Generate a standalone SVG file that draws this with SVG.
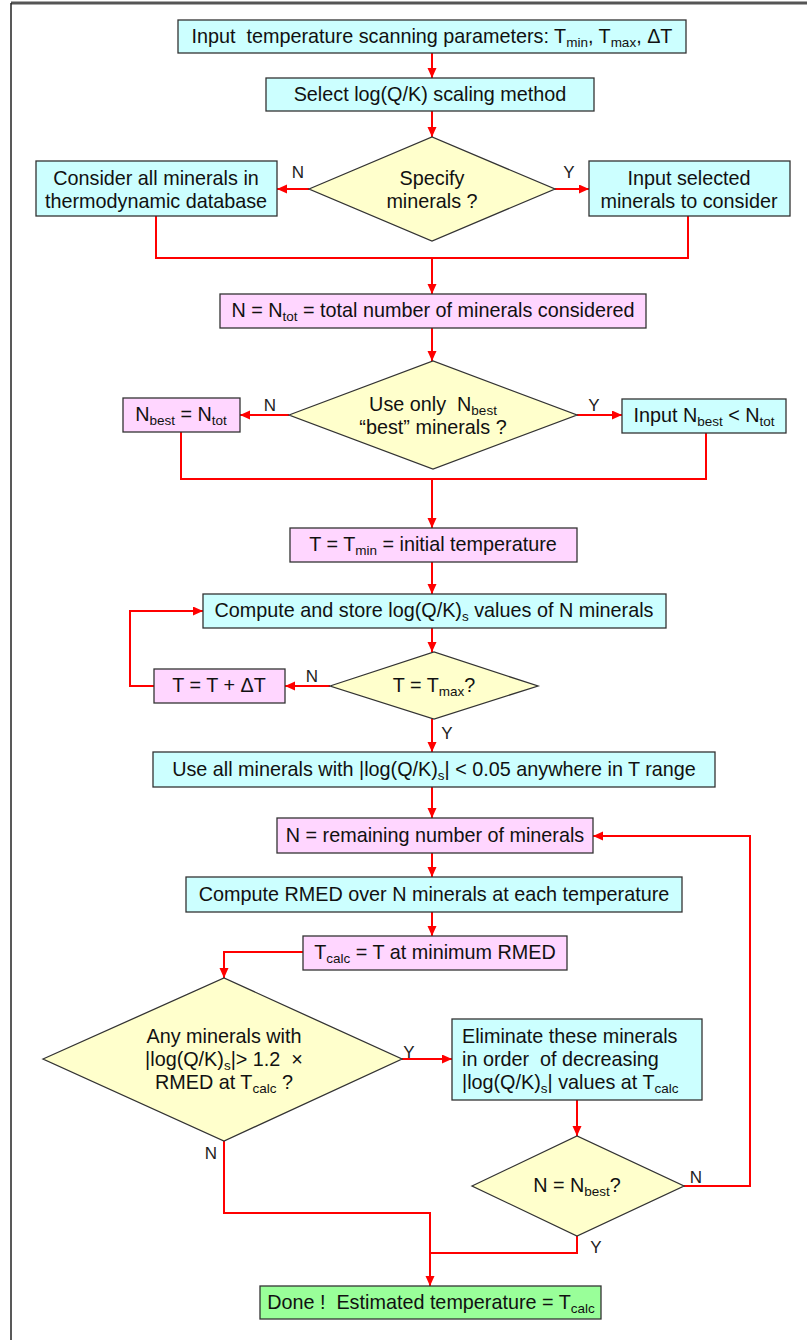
<svg xmlns="http://www.w3.org/2000/svg" width="807" height="1340" viewBox="0 0 807 1340">
<defs>
<style>
.box{stroke:#333;stroke-width:1.3}
.cy{fill:#CCFFFF}.pk{fill:#FFD6FF}.yl{fill:#FFFFCC}.gr{fill:#99FF99}
.t{font-family:"Liberation Sans",Arial,sans-serif;font-size:19.8px;fill:#111;text-anchor:middle;white-space:pre}
.tl{text-anchor:start}
.s{font-size:13.5px}
.lb{font-family:"Liberation Sans",Arial,sans-serif;font-size:17px;fill:#222;text-anchor:middle}
.c{fill:none;stroke:#FF0000;stroke-width:2}
.a{marker-end:url(#ah)}
</style>
<marker id="ah" markerUnits="userSpaceOnUse" markerWidth="11" markerHeight="10" refX="10" refY="4.5" orient="auto">
<path d="M0,0 L10,4.5 L0,9 z" fill="#FF0000"/>
</marker>
</defs>
<rect x="0" y="0" width="807" height="1340" fill="#fff"/>
<line x1="11" y1="3" x2="807" y2="3" stroke="#555" stroke-width="3"/>
<line x1="11" y1="3" x2="11" y2="1340" stroke="#222" stroke-width="1.5"/>

<g id="connectors">
<path class="c a" d="M432,53 V78"/>
<path class="c a" d="M432,111 V137"/>
<path class="c a" d="M309,189 H277"/>
<path class="c a" d="M555,189 H589"/>
<path class="c" d="M156,216 V258 H688 V216"/>
<path class="c a" d="M432,258 V294"/>
<path class="c a" d="M432,328 V361"/>
<path class="c a" d="M289,415 H240"/>
<path class="c a" d="M577,415 H622"/>
<path class="c" d="M181,432 V479 H706 V433"/>
<path class="c a" d="M432,479 V528"/>
<path class="c a" d="M432,562 V594"/>
<path class="c a" d="M432,628 V652"/>
<path class="c a" d="M330,686 H285"/>
<path class="c a" d="M154,686 H130 V611 H203"/>
<path class="c a" d="M432,719 V752"/>
<path class="c a" d="M432,787 V818"/>
<path class="c a" d="M432,853 V877"/>
<path class="c a" d="M432,912 V936"/>
<path class="c a" d="M303,952 H224 V978"/>
<path class="c a" d="M402,1059 H452"/>
<path class="c a" d="M577,1100 V1136"/>
<path class="c a" d="M684,1186 H750 V836 H593"/>
<path class="c a" d="M224,1141 V1213 H430 V1286"/>
<path class="c" d="M577,1236 V1253 H430"/>
</g>

<g id="n1"><rect class="box cy" x="178" y="20" width="508" height="33"/>
<text class="t" x="432" y="43">Input  temperature scanning parameters: T<tspan class="s" dy="4">min</tspan><tspan dy="-4">, T</tspan><tspan class="s" dy="4">max</tspan><tspan dy="-4">, ΔT</tspan></text></g>

<g id="n2"><rect class="box cy" x="266" y="78" width="328" height="33"/>
<text class="t" x="430" y="101">Select log(Q/K) scaling method</text></g>

<g id="d1"><polygon class="box yl" points="309,189 432,137 555,189 432,241"/>
<text class="t" x="432" y="185">Specify</text>
<text class="t" x="432" y="208">minerals ?</text></g>

<g id="n3"><rect class="box cy" x="36" y="161" width="241" height="55"/>
<text class="t" x="156" y="185">Consider all minerals in</text>
<text class="t" x="156" y="208">thermodynamic database</text></g>

<g id="n4"><rect class="box cy" x="589" y="161" width="201" height="55"/>
<text class="t" x="689" y="185">Input selected</text>
<text class="t" x="689" y="208">minerals to consider</text></g>

<g id="n5"><rect class="box pk" x="220" y="294" width="426" height="34"/>
<text class="t" x="433" y="317">N = N<tspan class="s" dy="4">tot</tspan><tspan dy="-4"> = total number of minerals considered</tspan></text></g>

<g id="d2"><polygon class="box yl" points="289,415 433,361 577,415 433,469"/>
<text class="t" x="433" y="411">Use only  N<tspan class="s" dy="4">best</tspan></text>
<text class="t" x="433" y="434">“best” minerals ?</text></g>

<g id="n6"><rect class="box pk" x="123" y="398" width="117" height="34"/>
<text class="t" x="181" y="421">N<tspan class="s" dy="4">best</tspan><tspan dy="-4"> = N</tspan><tspan class="s" dy="4">tot</tspan></text></g>

<g id="n7"><rect class="box cy" x="622" y="399" width="164" height="34"/>
<text class="t" x="704" y="422">Input N<tspan class="s" dy="4">best</tspan><tspan dy="-4"> &lt; N</tspan><tspan class="s" dy="4">tot</tspan></text></g>

<g id="n8"><rect class="box pk" x="290" y="528" width="287" height="34"/>
<text class="t" x="433" y="551">T = T<tspan class="s" dy="4">min</tspan><tspan dy="-4"> = initial temperature</tspan></text></g>

<g id="n9"><rect class="box cy" x="203" y="594" width="463" height="34"/>
<text class="t" x="434" y="617">Compute and store log(Q/K)<tspan class="s" dy="4">s</tspan><tspan dy="-4"> values of N minerals</tspan></text></g>

<g id="d3"><polygon class="box yl" points="330,686 434,652 538,686 434,719"/>
<text class="t" x="434" y="692">T = T<tspan class="s" dy="4">max</tspan><tspan dy="-4">?</tspan></text></g>

<g id="n10"><rect class="box pk" x="154" y="669" width="131" height="34"/>
<text class="t" x="219" y="692">T = T + ΔT</text></g>

<g id="n11"><rect class="box cy" x="153" y="752" width="562" height="35"/>
<text class="t" x="434" y="776">Use all minerals with |log(Q/K)<tspan class="s" dy="4">s</tspan><tspan dy="-4">| &lt; 0.05 anywhere in T range</tspan></text></g>

<g id="n12"><rect class="box pk" x="277" y="818" width="316" height="35"/>
<text class="t" x="435" y="842">N = remaining number of minerals</text></g>

<g id="n13"><rect class="box cy" x="186" y="877" width="496" height="35"/>
<text class="t" x="434" y="901">Compute RMED over N minerals at each temperature</text></g>

<g id="n14"><rect class="box pk" x="303" y="936" width="264" height="34"/>
<text class="t" x="435" y="959">T<tspan class="s" dy="4">calc</tspan><tspan dy="-4"> = T at minimum RMED</tspan></text></g>

<g id="d4"><polygon class="box yl" points="43,1059 224,978 402,1059 224,1141"/>
<text class="t" x="224" y="1043">Any minerals with</text>
<text class="t" x="224" y="1066">|log(Q/K)<tspan class="s" dy="4">s</tspan><tspan dy="-4">|&gt; 1.2  ×</tspan></text>
<text class="t" x="224" y="1089">RMED at T<tspan class="s" dy="4">calc</tspan><tspan dy="-4"> ?</tspan></text></g>

<g id="n15"><rect class="box cy" x="452" y="1019" width="250" height="81"/>
<text class="t tl" x="462" y="1043">Eliminate these minerals</text>
<text class="t tl" x="462" y="1066">in order  of decreasing</text>
<text class="t tl" x="462" y="1089">|log(Q/K)<tspan class="s" dy="4">s</tspan><tspan dy="-4">| values at T</tspan><tspan class="s" dy="4">calc</tspan></text></g>

<g id="d5"><polygon class="box yl" points="472,1186 577,1136 684,1186 577,1236"/>
<text class="t" x="577" y="1192">N = N<tspan class="s" dy="4">best</tspan><tspan dy="-4">?</tspan></text></g>

<g id="n16"><rect class="box gr" x="260" y="1286" width="341" height="33"/>
<text class="t" x="431" y="1309">Done !  Estimated temperature = T<tspan class="s" dy="4">calc</tspan></text></g>

<g id="labels">
<text class="lb" x="298" y="178">N</text>
<text class="lb" x="569" y="178">Y</text>
<text class="lb" x="270" y="411">N</text>
<text class="lb" x="594" y="411">Y</text>
<text class="lb" x="312" y="682">N</text>
<text class="lb" x="447" y="739">Y</text>
<text class="lb" x="409" y="1058">Y</text>
<text class="lb" x="211" y="1159">N</text>
<text class="lb" x="696" y="1183">N</text>
<text class="lb" x="596" y="1253">Y</text>
</g>
</svg>
